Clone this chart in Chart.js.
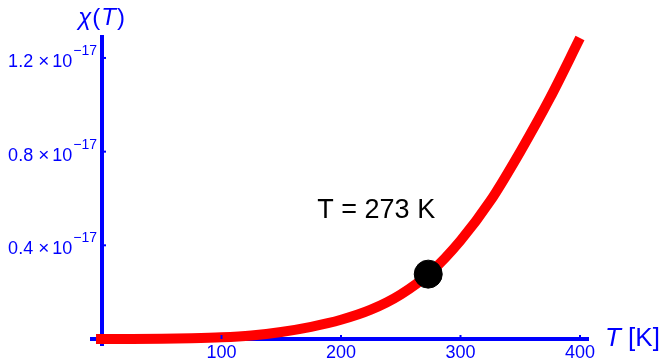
<!DOCTYPE html>
<html>
<head>
<meta charset="utf-8">
<script src="https://cdn.jsdelivr.net/npm/chart.js"></script>
<style>
  html, body { margin: 0; padding: 0; background: #fff; }
</style>
</head>
<body>
<canvas id="myChart" width="664" height="361"></canvas>
<script>
// temperature in K, susceptibility in units of 1e-17
const temps = [-5, 0, 25, 50, 75, 100, 125, 150, 175, 200, 225, 250, 275, 300, 325, 350, 375, 400];
const chi = [0, 0, 0, 0.001, 0.003, 0.007, 0.015, 0.030, 0.052, 0.082, 0.125, 0.190, 0.285, 0.420, 0.590, 0.800, 1.030, 1.285];
const markT = [273];
const markChi = [0.277];
const xTicks = [100, 200, 300, 400];
const yTicks = [0.4, 0.8, 1.2];
const yExponent = "−17";
const markLabel = "T = 273 K";

const BLUE = "#0000ff";
const FONT = "'Liberation Sans', Arial, Helvetica, sans-serif";

const textPlugin = {
  id: "textPlugin",
  afterDraw(chart) {
    const ctx = chart.ctx;
    const xs = chart.scales.x;
    const ys = chart.scales.y;
    const x0 = xs.getPixelForValue(0);
    const y0 = ys.getPixelForValue(0);
    ctx.save();

    // small inward tick marks
    ctx.strokeStyle = BLUE;
    ctx.lineWidth = 2;
    xTicks.forEach(v => {
      const px = xs.getPixelForValue(v);
      ctx.beginPath();
      ctx.moveTo(px, y0);
      ctx.lineTo(px, y0 - 4);
      ctx.stroke();
    });
    yTicks.forEach(v => {
      const py = ys.getPixelForValue(v);
      ctx.beginPath();
      ctx.moveTo(x0, py);
      ctx.lineTo(x0 + 4, py);
      ctx.stroke();
    });

    // y tick labels with superscript exponent
    ctx.fillStyle = BLUE;
    ctx.textBaseline = "alphabetic";
    ctx.textAlign = "left";
    yTicks.forEach(v => {
      const py = ys.getPixelForValue(v);
      const parts = [
        { t: v.toFixed(1), f: "18px " + FONT, dy: 9, gap: 5 },
        { t: "×", f: "19px " + FONT, dy: 9, gap: 3 },
        { t: "10", f: "18px " + FONT, dy: 9, gap: 1 },
        { t: yExponent, f: "14px " + FONT, dy: -3, gap: 0 }
      ];
      let total = 0;
      parts.forEach(p => { ctx.font = p.f; p.w = ctx.measureText(p.t).width; total += p.w + p.gap; });
      let x = x0 - 5 - total;
      parts.forEach(p => {
        ctx.font = p.f;
        ctx.fillText(p.t, x, py + p.dy);
        x += p.w + p.gap;
      });
    });

    // y axis title chi(T)
    const title = [
      { t: "χ", f: "italic 24px " + FONT },
      { t: "(", f: "24px " + FONT },
      { t: "T", f: "italic 24px " + FONT },
      { t: ")", f: "24px " + FONT }
    ];
    let tw = 0;
    title.forEach(p => { ctx.font = p.f; p.w = ctx.measureText(p.t).width + 1; tw += p.w; });
    let tx = x0 - tw / 2;
    title.forEach(p => { ctx.font = p.f; ctx.fillText(p.t, tx, 25); tx += p.w; });

    // x axis title T [K]
    ctx.font = "italic 26px " + FONT;
    ctx.fillText("T", 605, 346);
    const tW = ctx.measureText("T").width;
    ctx.font = "26px " + FONT;
    ctx.fillText(" [K]", 605 + tW, 346);

    // annotation near the marker
    const mx = xs.getPixelForValue(markT[0]);
    const my = ys.getPixelForValue(markChi[0]);
    ctx.fillStyle = "#000";
    ctx.font = "27px " + FONT;
    ctx.textAlign = "center";
    ctx.fillText(markLabel, mx - 52, my - 56);

    ctx.restore();
  }
};

new Chart(document.getElementById("myChart"), {
  type: "scatter",
  data: {
    datasets: [
      {
        data: markT.map((t, i) => ({ x: t, y: markChi[i] })),
        backgroundColor: "#000",
        borderColor: "#000",
        pointRadius: 14,
        showLine: false,
        clip: false
      },
      {
        data: temps.map((t, i) => ({ x: t, y: chi[i] })),
        borderColor: "#ff0000",
        borderWidth: 10,
        borderCapStyle: "butt",
        pointRadius: 0,
        showLine: true,
        cubicInterpolationMode: "monotone",
        clip: false
      }
    ]
  },
  options: {
    responsive: false,
    animation: false,
    layout: { padding: { left: 92, top: 37, right: 76, bottom: 16 } },
    plugins: { legend: { display: false }, tooltip: { enabled: false } },
    scales: {
      x: {
        type: "linear",
        min: -8.37,
        max: 406.7,
        position: { y: 0 },
        z: 1,
        afterBuildTicks: s => { s.ticks = xTicks.map(v => ({ value: v })); },
        grid: { display: false, drawTicks: false },
        border: { display: true, color: BLUE, width: 4 },
        ticks: {
          autoSkip: false,
          maxRotation: 0,
          padding: 3,
          color: BLUE,
          font: { family: FONT, size: 18 }
        }
      },
      y: {
        type: "linear",
        min: -0.0256,
        max: 1.2895,
        position: { x: 0 },
        z: 1,
        afterBuildTicks: s => { s.ticks = yTicks.map(v => ({ value: v })); },
        grid: { display: false, drawTicks: false },
        border: { display: true, color: BLUE, width: 4 },
        ticks: { display: false }
      }
    }
  },
  plugins: [textPlugin]
});
</script>
</body>
</html>
